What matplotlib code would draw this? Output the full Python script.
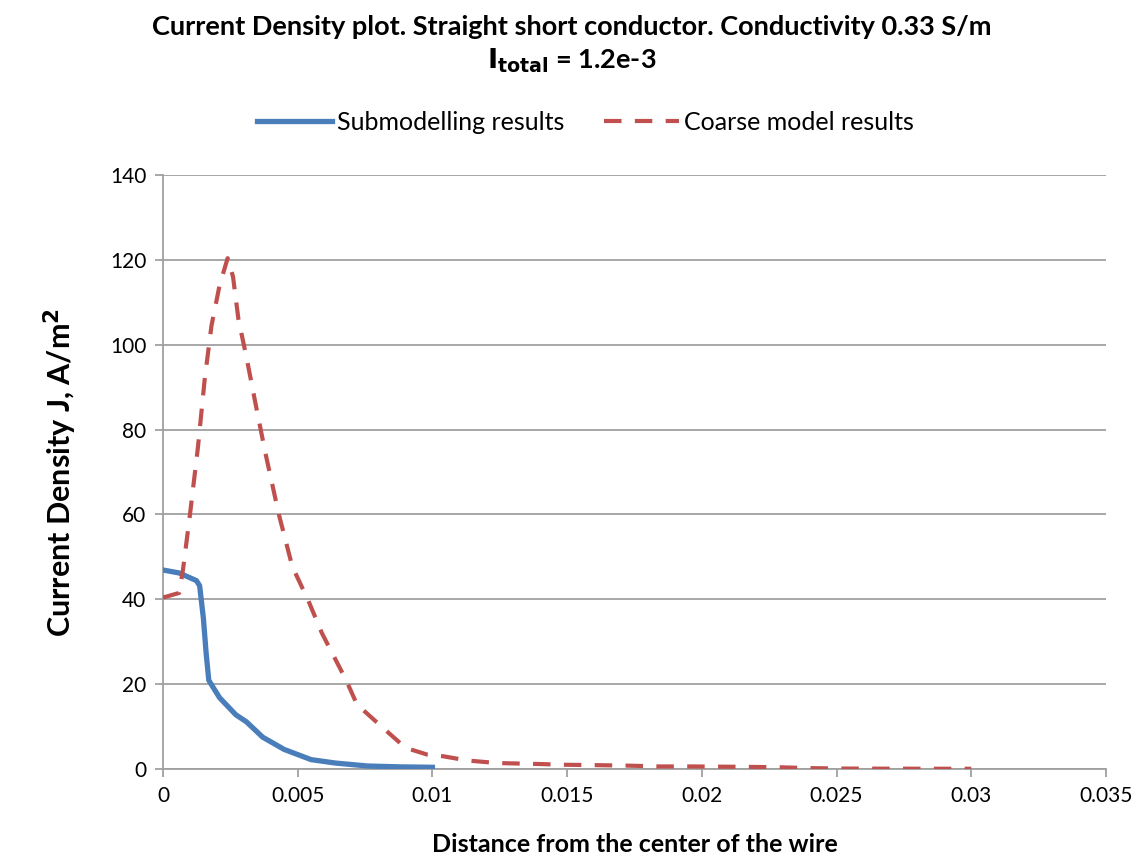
import matplotlib.pyplot as plt
import numpy as np

# Submodelling results (blue, solid)
sub_x = [0, 0.0006, 0.00124, 0.00136, 0.0015, 0.0016, 0.0017, 0.0021, 0.0027, 0.0031,
         0.0037, 0.0045, 0.0055, 0.0064, 0.0076, 0.0088, 0.01]
sub_y = [46.9, 46.2, 44.4, 43.2, 35.5, 27.4, 20.9, 16.8, 12.8, 11.1,
         7.5, 4.6, 2.2, 1.4, 0.7, 0.5, 0.4]

# Coarse model results (red, dashed)
coarse_x = [0, 0.0006, 0.00074, 0.001, 0.0013, 0.00155, 0.0018, 0.0021, 0.0024, 0.0026,
            0.0028, 0.0031, 0.0035, 0.0038, 0.0043, 0.0048, 0.0054, 0.0059, 0.0068, 0.0072,
            0.0082, 0.009, 0.0098, 0.0104, 0.0113, 0.0124, 0.0138, 0.0149, 0.0161, 0.0172,
            0.0184, 0.0196, 0.0206, 0.0217, 0.0229, 0.024, 0.0252, 0.0264, 0.0275, 0.0287, 0.03]
coarse_y = [40.4, 41.5, 46.9, 59.9, 76, 92, 104.5, 114, 120.4, 116,
            106, 97, 84, 74.5, 60, 47.7, 39.6, 32, 20.9, 15.2,
            9.5, 5.0, 3.4, 3.0, 2.0, 1.4, 1.2, 1.0, 0.9, 0.8,
            0.6, 0.6, 0.55, 0.5, 0.4, 0.2, 0.1, 0.08, 0.07, 0.06, 0.05]

xticks = [0, 0.005, 0.01, 0.015, 0.02, 0.025, 0.03, 0.035]
xticklabels = ['0', '0.005', '0.01', '0.015', '0.02', '0.025', '0.03', '0.035']
yticks = [0, 20, 40, 60, 80, 100, 120, 140]

plt.rcParams['font.family'] = ['Lato', 'DejaVu Sans']

fig = plt.figure(figsize=(11.43, 8.55), dpi=100)
ax = fig.add_axes([0.1426, 0.1006, 0.825, 0.6947])

grid_c = '#a0a0a0'
blue = '#4a7ebb'
red = '#c0504d'

ax.plot(sub_x, sub_y, color=blue, lw=3.8, solid_joinstyle='round',
        label='Submodelling results', zorder=3)
ax.plot(coarse_x, coarse_y, color=red, lw=3.0, dashes=(4.2, 3.2),
        label='Coarse model results', zorder=3)

ax.set_xlim(0, 0.035)
ax.set_ylim(0, 140)
ax.set_xticks(xticks)
ax.set_xticklabels(xticklabels)
ax.set_yticks(yticks)
ax.yaxis.grid(True, color=grid_c, lw=1.3)
ax.set_axisbelow(True)
for s in ['top', 'right']:
    ax.spines[s].set_visible(False)
for s in ['left', 'bottom']:
    ax.spines[s].set_color(grid_c)
    ax.spines[s].set_linewidth(1.3)
ax.tick_params(axis='both', colors=grid_c, width=1.3, length=6, labelsize=15,
               labelcolor='black', pad=6)

ax.set_xlabel('Distance from the center of the wire', fontsize=18, fontweight='bold',
              labelpad=20)
ax.set_ylabel('Current Density J, A/m$^\\mathbf{2}$', fontsize=22, fontweight='bold',
              labelpad=22)

fig.text(0.5, 0.968, 'Current Density plot. Straight short conductor. Conductivity 0.33 S/m',
         ha='center', va='center', fontsize=19.5, fontweight='bold')
fig.text(0.5, 0.929, '$\\mathbf{I_{total}}$ = 1.2e-3', ha='center', va='center',
         fontsize=19.5, fontweight='bold')

fig.legend(loc='center', bbox_to_anchor=(0.512, 0.857), ncol=2, frameon=False,
           fontsize=18, handlelength=3.0, handletextpad=0.2, columnspacing=1.6)

plt.savefig('out.png', dpi=100)
